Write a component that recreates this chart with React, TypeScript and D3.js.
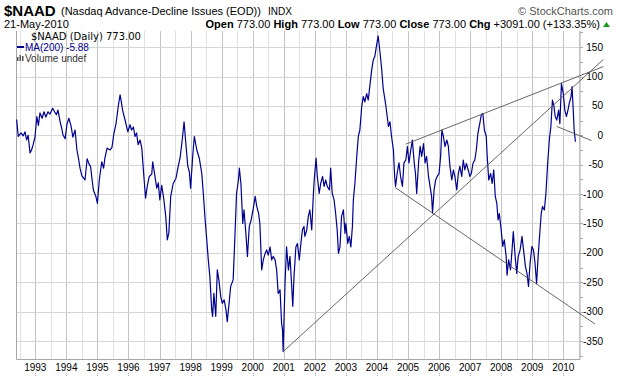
import React from "react";
import * as d3 from "d3";

// decimal years of sampled points
const years = [
  1992.40,1992.45,1992.54,1992.61,1992.67,1992.72,1992.77,1992.83,1992.88,1992.93,
  1992.99,1993.05,1993.10,1993.15,1993.22,1993.28,1993.34,1993.41,1993.47,1993.56,
  1993.62,1993.68,1993.73,1993.80,1993.85,1993.89,1993.96,1994.02,1994.08,1994.15,
  1994.21,1994.28,1994.34,1994.39,1994.44,1994.50,1994.60,1994.67,1994.73,1994.78,
  1994.83,1994.87,1994.95,1995.00,1995.06,1995.14,1995.20,1995.24,1995.31,1995.41,
  1995.47,1995.53,1995.60,1995.67,1995.73,1995.77,1995.81,1995.89,1995.98,1996.05,
  1996.10,1996.16,1996.21,1996.26,1996.31,1996.37,1996.43,1996.48,1996.55,1996.61,
  1996.67,1996.75,1996.78,1996.83,1996.91,1996.96,1997.01,1997.07,1997.14,1997.20,
  1997.25,1997.30,1997.36,1997.44,1997.53,1997.60,1997.66,1997.73,1997.79,1997.85,
  1997.91,1997.96,1998.00,1998.07,1998.12,1998.20,1998.28,1998.36,1998.41,1998.46,
  1998.52,1998.57,1998.62,1998.68,1998.71,1998.75,1998.81,1998.86,1998.91,1998.97,
  1999.02,1999.08,1999.14,1999.18,1999.25,1999.29,1999.37,1999.41,1999.48,1999.54,
  1999.57,1999.62,1999.68,1999.72,1999.78,1999.83,1999.89,1999.95,2000.02,2000.08,
  2000.13,2000.19,2000.23,2000.29,2000.34,2000.40,2000.45,2000.50,2000.56,2000.61,
  2000.66,2000.72,2000.77,2000.82,2000.88,2000.93,2000.96,2000.98,2001.04,2001.09,
  2001.15,2001.20,2001.25,2001.29,2001.33,2001.39,2001.44,2001.50,2001.54,2001.60,
  2001.65,2001.68,2001.74,2001.79,2001.84,2001.90,2001.95,2001.98,2002.04,2002.08,
  2002.14,2002.19,2002.25,2002.30,2002.35,2002.40,2002.47,2002.51,2002.56,2002.62,
  2002.67,2002.72,2002.76,2002.81,2002.86,2002.92,2002.97,2003.00,2003.06,2003.11,
  2003.16,2003.21,2003.24,2003.29,2003.35,2003.40,2003.45,2003.51,2003.56,2003.61,
  2003.67,2003.72,2003.78,2003.83,2003.88,2003.93,2003.99,2004.04,2004.10,2004.15,
  2004.20,2004.26,2004.29,2004.33,2004.37,2004.42,2004.47,2004.53,2004.57,2004.60,
  2004.65,2004.71,2004.76,2004.82,2004.87,2004.93,2004.98,2005.03,2005.09,2005.14,
  2005.20,2005.24,2005.28,2005.34,2005.39,2005.44,2005.50,2005.55,2005.60,2005.66,
  2005.71,2005.76,2005.79,2005.84,2005.89,2005.94,2006.00,2006.05,2006.09,2006.14,
  2006.19,2006.25,2006.30,2006.35,2006.41,2006.46,2006.51,2006.57,2006.62,2006.67,
  2006.73,2006.78,2006.83,2006.88,2006.94,2006.99,2007.04,2007.09,2007.15,2007.20,
  2007.25,2007.31,2007.36,2007.41,2007.46,2007.52,2007.55,2007.60,2007.66,2007.71,
  2007.76,2007.81,2007.86,2007.90,2007.94,2008.00,2008.05,2008.10,2008.16,2008.19,
  2008.24,2008.30,2008.35,2008.39,2008.45,2008.50,2008.55,2008.61,2008.67,2008.72,
  2008.78,2008.83,2008.88,2008.93,2008.99,2009.04,2009.09,2009.14,2009.19,2009.25,
  2009.29,2009.33,2009.39,2009.44,2009.49,2009.55,2009.60,2009.65,2009.70,2009.74,
  2009.79,2009.85,2009.89,2009.94,2010.00,2010.05,2010.10,2010.15,2010.19,2010.25,
  2010.28,2010.32,2010.35,2010.39,
];

const naadValues = [
  27,-2,4,-1,6,-8,0,-30,-25,-16,
  -3,32,17,38,29,40,31,40,36,46,
  40,35,43,23,12,1,-6,19,29,16,
  -3,9,-25,-39,-56,-69,-76,-40,-49,-53,
  -76,-93,-104,-116,-76,-45,-56,-39,-22,-25,
  -20,3,20,49,69,57,43,26,6,18,
  9,14,-2,4,-16,-8,-22,-59,-107,-85,
  -70,-66,-45,-62,-90,-81,-110,-85,-110,-138,
  -178,-166,-104,-82,-73,-53,-39,-8,23,-16,
  -53,-62,-90,-34,-2,-25,-39,-65,-99,-138,
  -178,-212,-240,-297,-308,-269,-308,-229,-246,-274,
  -286,-280,-297,-317,-280,-257,-246,-195,-99,-76,
  -56,-82,-150,-127,-167,-206,-155,-144,-124,-104,
  -121,-133,-150,-229,-212,-201,-195,-204,-190,-212,
  -206,-212,-229,-269,-263,-320,-331,-368,-252,-190,
  -229,-206,-252,-291,-240,-190,-184,-212,-190,-161,
  -155,-172,-161,-138,-127,-161,-104,-76,-39,-70,
  -99,-82,-70,-87,-76,-87,-93,-56,-99,-110,
  -133,-161,-201,-190,-138,-127,-167,-150,-184,-172,
  -190,-155,-110,-82,-36,-2,9,49,66,57,
  71,60,88,111,128,134,154,169,140,114,
  80,60,49,32,15,23,-2,-25,-70,-87,
  -65,-47,-70,-87,-47,-42,-19,-47,-25,-8,
  -47,-65,-99,-47,-19,-36,-14,-47,-36,-70,
  -87,-104,-132,-93,-76,-70,-65,-36,9,-2,
  -19,-8,-19,-53,-76,-59,-70,-93,-65,-53,
  -70,-42,-59,-48,-59,-70,-65,-48,-42,-25,
  3,20,35,37,9,-2,-36,-76,-65,-82,
  -59,-104,-116,-144,-133,-161,-189,-178,-206,-238,
  -212,-229,-195,-164,-206,-235,-206,-195,-172,-195,
  -223,-235,-257,-218,-189,-195,-218,-252,-206,-161,
  -133,-121,-127,-99,-53,-8,15,60,49,32,
  26,43,20,88,71,43,32,43,54,66,
  83,43,9,-11,
];

const yearLabels = [1993,1994,1995,1996,1997,1998,1999,2000,2001,2002,2003,2004,2005,2006,2007,2008,2009,2010];
const yTicks = [150,100,50,0,-50,-100,-150,-200,-250,-300,-350];

// hand-drawn trend lines: [startYear, startValue, endYear, endValue]
const trendStartYears = [2000.98, 2004.93, 2004.59, 2009.79];
const trendStartValues = [-368, -15, -89, 15];
const trendEndYears = [2011.29, 2011.29, 2011.02, 2010.91];
const trendEndValues = [129, 117, -321, -9];

const W = 620, H = 376;
const left = 16.5, right = 580, top = 31, bottom = 359.5;

export default function App() {
  const x = d3.scaleLinear().domain([1993, 2010]).range([35.3, 563.3]);
  const y = d3.scaleLinear().domain([0, -350]).range([135.3, 341]);

  const data = years.map((t, i) => [t, naadValues[i]] as [number, number]);
  const line = d3.line<[number, number]>().x(d => x(d[0])).y(d => y(d[1]));

  const halfYears: number[] = [];
  for (let yr = 1992.5; yr <= 2010.5; yr += 0.5) halfYears.push(yr);

  const minorTicks: number[] = [];
  for (let v = 175; v >= -375; v -= 25) minorTicks.push(v);

  const font = "'Liberation Sans', Arial, sans-serif";

  return (
    <svg width={W} height={H} style={{ position: "absolute", left: 0, top: 0, background: "#fff" }} fontFamily={font}>
      <rect x={0} y={0} width={W} height={H} fill="#fff" />
      {/* header */}
      <text x={4} y={16} fontSize={15} fontWeight="bold" fill="#000">$NAAD</text>
      <text x={61} y={15} fontSize={11} fill="#000">(Nasdaq Advance-Decline Issues (EOD))</text>
      <text x={268} y={15} fontSize={10} fill="#000">INDX</text>
      <text x={613} y={15} fontSize={11} fill="#555" textAnchor="end">© StockCharts.com</text>
      <text x={4} y={28} fontSize={11} fill="#000">21-May-2010</text>
      <text x={600} y={28} fontSize={11} fill="#000" textAnchor="end">
        <tspan fontWeight="bold">Open</tspan> 773.00 <tspan fontWeight="bold">High</tspan> 773.00 <tspan fontWeight="bold">Low</tspan> 773.00 <tspan fontWeight="bold">Close</tspan> 773.00 <tspan fontWeight="bold">Chg</tspan> +3091.00 (+133.35%)
      </text>
      <path d="M603,27 L606.5,22 L610,27 Z" fill="#1a9a1a" />

      {/* grid */}
      {halfYears.map(t => {
        const isYear = Math.abs(t - Math.round(t)) < 0.01;
        const xx = Math.round(x(t)) + 0.5;
        if (xx <= left || xx >= right) return null;
        return <line key={"v" + t} x1={xx} x2={xx} y1={top} y2={bottom} stroke={isYear ? "#c4c4c4" : "#e0e0e0"} strokeWidth={1} />;
      })}
      {yTicks.map(v => {
        const yy = Math.round(y(v)) + 0.5;
        return <line key={"h" + v} x1={left} x2={right} y1={yy} y2={yy} stroke="#d6d6d6" strokeWidth={1} />;
      })}

      {/* frame */}
      <line x1={left} x2={left} y1={top} y2={bottom} stroke="#a8a8a8" />
      <line x1={left} x2={right} y1={bottom} y2={bottom} stroke="#a8a8a8" />
      <line x1={right} x2={right} y1={top} y2={bottom} stroke="#a8a8a8" />

      {/* right axis */}
      {minorTicks.map(v => {
        const yy = Math.round(y(v)) + 0.5;
        if (yy < top || yy > bottom) return null;
        return <line key={"m" + v} x1={right} x2={right + 3} y1={yy} y2={yy} stroke="#aaa" />;
      })}
      {yTicks.map(v => (
        <text key={"yl" + v} x={603} y={y(v) + 3.5} fontSize={10} textAnchor="end" fill="#000">{v}</text>
      ))}

      {/* x axis */}
      {yearLabels.map(yr => (
        <g key={"xl" + yr}>
          <text x={x(yr)} y={371} fontSize={10} textAnchor="middle" fill="#000">{yr}</text>
          <line x1={Math.round(x(yr)) + 0.5} x2={Math.round(x(yr)) + 0.5} y1={373} y2={376} stroke="#aaa" strokeDasharray="1,1" />
        </g>
      ))}

      {/* data line */}
      <path d={line(data) || ""} fill="none" stroke="#000090" strokeWidth={1.2} strokeLinejoin="round" />

      {/* trend lines */}
      {trendStartYears.map((t, i) => (
        <line key={"t" + i} x1={x(t)} y1={y(trendStartValues[i])} x2={x(trendEndYears[i])} y2={y(trendEndValues[i])} stroke="#555" strokeWidth={0.9} />
      ))}

      {/* legend */}
      <text x={31} y={40} fontSize={10} fontFamily="'DejaVu Sans', sans-serif" fill="#000">$NAAD (Daily) 773.00</text>
      <line x1={17} x2={24} y1={47} y2={47} stroke="#000090" strokeWidth={2} />
      <text x={25} y={50.5} fontSize={10} fill="#000090">MA(200) -5.88</text>
      <g fill="#555">
        <rect x={17} y={57} width={1.5} height={4} />
        <rect x={19.5} y={55} width={1.5} height={6} />
        <rect x={22} y={56} width={1.5} height={5} />
      </g>
      <text x={25} y={61.5} fontSize={10} fill="#333">Volume undef</text>
    </svg>
  );
}
